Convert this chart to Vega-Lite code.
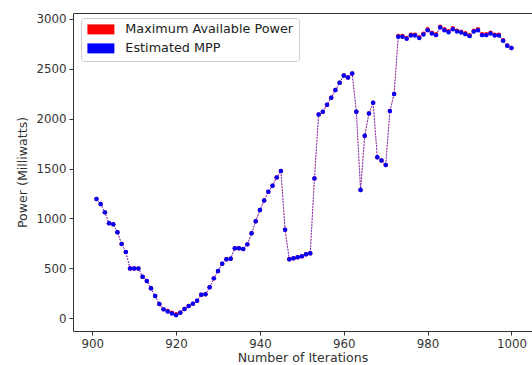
{
  "$schema": "https://vega.github.io/schema/vega-lite/v6.json",
  "width": 459,
  "height": 318,
  "autosize": "none",
  "padding": {"left": 73, "top": 13, "right": 0, "bottom": 34},
  "background": "white",
  "config": {
    "font": "DejaVu Sans",
    "view": {"stroke": "#333333", "strokeWidth": 1},
    "axis": {
      "domain": false,
      "grid": false,
      "tickColor": "#333333",
      "tickSize": 4,
      "tickWidth": 1,
      "labelFont": "DejaVu Sans",
      "labelFontSize": 11.8,
      "labelColor": "#333333",
      "labelPadding": 3,
      "titleFont": "DejaVu Sans",
      "titleFontSize": 12.6,
      "titleFontWeight": "normal",
      "titleColor": "#333333"
    }
  },
  "data": {
    "values": [
      {"x": 901, "max": 1194, "est": 1194},
      {"x": 902, "max": 1143, "est": 1143},
      {"x": 903, "max": 1060, "est": 1060},
      {"x": 904, "max": 950, "est": 950},
      {"x": 905, "max": 940, "est": 940},
      {"x": 906, "max": 860, "est": 860},
      {"x": 907, "max": 742, "est": 742},
      {"x": 908, "max": 662, "est": 662},
      {"x": 909, "max": 498, "est": 498},
      {"x": 910, "max": 498, "est": 498},
      {"x": 911, "max": 498, "est": 498},
      {"x": 912, "max": 415, "est": 415},
      {"x": 913, "max": 371, "est": 371},
      {"x": 914, "max": 298, "est": 298},
      {"x": 915, "max": 221, "est": 221},
      {"x": 916, "max": 140, "est": 140},
      {"x": 917, "max": 87, "est": 87},
      {"x": 918, "max": 70, "est": 65},
      {"x": 919, "max": 52, "est": 45},
      {"x": 920, "max": 38, "est": 28},
      {"x": 921, "max": 56, "est": 53},
      {"x": 922, "max": 90, "est": 90},
      {"x": 923, "max": 120, "est": 120},
      {"x": 924, "max": 143, "est": 143},
      {"x": 925, "max": 174, "est": 174},
      {"x": 926, "max": 234, "est": 234},
      {"x": 927, "max": 238, "est": 238},
      {"x": 928, "max": 308, "est": 308},
      {"x": 929, "max": 398, "est": 398},
      {"x": 930, "max": 471, "est": 471},
      {"x": 931, "max": 545, "est": 545},
      {"x": 932, "max": 589, "est": 589},
      {"x": 933, "max": 595, "est": 595},
      {"x": 934, "max": 699, "est": 699},
      {"x": 935, "max": 699, "est": 699},
      {"x": 936, "max": 692, "est": 692},
      {"x": 937, "max": 739, "est": 739},
      {"x": 938, "max": 850, "est": 850},
      {"x": 939, "max": 972, "est": 972},
      {"x": 940, "max": 1083, "est": 1083},
      {"x": 941, "max": 1178, "est": 1178},
      {"x": 942, "max": 1267, "est": 1267},
      {"x": 943, "max": 1327, "est": 1327},
      {"x": 944, "max": 1411, "est": 1411},
      {"x": 945, "max": 1474, "est": 1474},
      {"x": 946, "max": 886, "est": 886},
      {"x": 947, "max": 589, "est": 589},
      {"x": 948, "max": 599, "est": 599},
      {"x": 949, "max": 609, "est": 609},
      {"x": 950, "max": 619, "est": 619},
      {"x": 951, "max": 639, "est": 639},
      {"x": 952, "max": 649, "est": 649},
      {"x": 953, "max": 1401, "est": 1401},
      {"x": 954, "max": 2043, "est": 2043},
      {"x": 955, "max": 2069, "est": 2069},
      {"x": 956, "max": 2140, "est": 2140},
      {"x": 957, "max": 2210, "est": 2210},
      {"x": 958, "max": 2287, "est": 2287},
      {"x": 959, "max": 2360, "est": 2360},
      {"x": 960, "max": 2432, "est": 2432},
      {"x": 961, "max": 2414, "est": 2414},
      {"x": 962, "max": 2454, "est": 2454},
      {"x": 963, "max": 2069, "est": 2069},
      {"x": 964, "max": 1284, "est": 1284},
      {"x": 965, "max": 1829, "est": 1829},
      {"x": 966, "max": 2053, "est": 2053},
      {"x": 967, "max": 2160, "est": 2160},
      {"x": 968, "max": 1612, "est": 1612},
      {"x": 969, "max": 1581, "est": 1581},
      {"x": 970, "max": 1535, "est": 1535},
      {"x": 971, "max": 2076, "est": 2076},
      {"x": 972, "max": 2247, "est": 2247},
      {"x": 973, "max": 2829, "est": 2821},
      {"x": 974, "max": 2829, "est": 2821},
      {"x": 975, "max": 2809, "est": 2801},
      {"x": 976, "max": 2843, "est": 2835},
      {"x": 977, "max": 2843, "est": 2835},
      {"x": 978, "max": 2816, "est": 2808},
      {"x": 979, "max": 2853, "est": 2845},
      {"x": 980, "max": 2896, "est": 2888},
      {"x": 981, "max": 2863, "est": 2855},
      {"x": 982, "max": 2846, "est": 2838},
      {"x": 983, "max": 2923, "est": 2915},
      {"x": 984, "max": 2896, "est": 2888},
      {"x": 985, "max": 2876, "est": 2868},
      {"x": 986, "max": 2906, "est": 2898},
      {"x": 987, "max": 2883, "est": 2875},
      {"x": 988, "max": 2873, "est": 2865},
      {"x": 989, "max": 2856, "est": 2848},
      {"x": 990, "max": 2836, "est": 2828},
      {"x": 991, "max": 2883, "est": 2875},
      {"x": 992, "max": 2896, "est": 2888},
      {"x": 993, "max": 2846, "est": 2838},
      {"x": 994, "max": 2846, "est": 2838},
      {"x": 995, "max": 2863, "est": 2855},
      {"x": 996, "max": 2843, "est": 2835},
      {"x": 997, "max": 2841, "est": 2835},
      {"x": 998, "max": 2786, "est": 2781},
      {"x": 999, "max": 2734, "est": 2731},
      {"x": 1000, "max": 2710, "est": 2708}
    ]
  },
  "encoding": {
    "x": {
      "field": "x",
      "type": "quantitative",
      "title": "Number of Iterations",
      "scale": {"domain": [895.4, 1004.9], "nice": false, "zero": false},
      "axis": {"values": [900, 920, 940, 960, 980, 1000], "format": "d", "titlePadding": 2}
    }
  },
  "layer": [
    {
      "mark": {"type": "line", "color": "#ff0000", "strokeWidth": 1, "strokeDash": [1.5, 1.5], "opacity": 0.7},
      "encoding": {"y": {"field": "max", "type": "quantitative"}}
    },
    {
      "mark": {"type": "point", "filled": true, "size": 20, "opacity": 1},
      "encoding": {
        "y": {"field": "max", "type": "quantitative"},
        "color": {
          "datum": "Maximum Available Power",
          "scale": {"domain": ["Maximum Available Power", "Estimated MPP"], "range": ["#ff0000", "#0000ff"]},
          "legend": {
            "title": null,
            "orient": "none",
            "legendX": 8,
            "legendY": 5,
            "padding": 5,
            "fillColor": "white",
            "strokeColor": "#cccccc",
            "cornerRadius": 3,
            "symbolType": "M-2.7,-1H2.7V1H-2.7Z",
            "symbolSize": 100,
            "symbolOffset": 8.5,
            "symbolStrokeWidth": 0,
            "symbolOpacity": 1,
            "labelOffset": 18,
            "labelLimit": 400,
            "labelFont": "DejaVu Sans",
            "labelFontSize": 12.8,
            "labelColor": "#222222",
            "rowPadding": 5
          }
        }
      }
    },
    {
      "mark": {"type": "line", "color": "#0000ff", "strokeWidth": 1, "strokeDash": [1.5, 1.5], "opacity": 0.7},
      "encoding": {"y": {"field": "est", "type": "quantitative"}}
    },
    {
      "mark": {"type": "point", "filled": true, "size": 20, "opacity": 1},
      "encoding": {
        "y": {
          "field": "est",
          "type": "quantitative",
          "title": "Power (Milliwatts)",
          "scale": {"domain": [-130, 3060], "nice": false, "zero": false},
          "axis": {"values": [0, 500, 1000, 1500, 2000, 2500, 3000], "format": "d", "titlePadding": 6}
        },
        "color": {"datum": "Estimated MPP"}
      }
    }
  ]
}
